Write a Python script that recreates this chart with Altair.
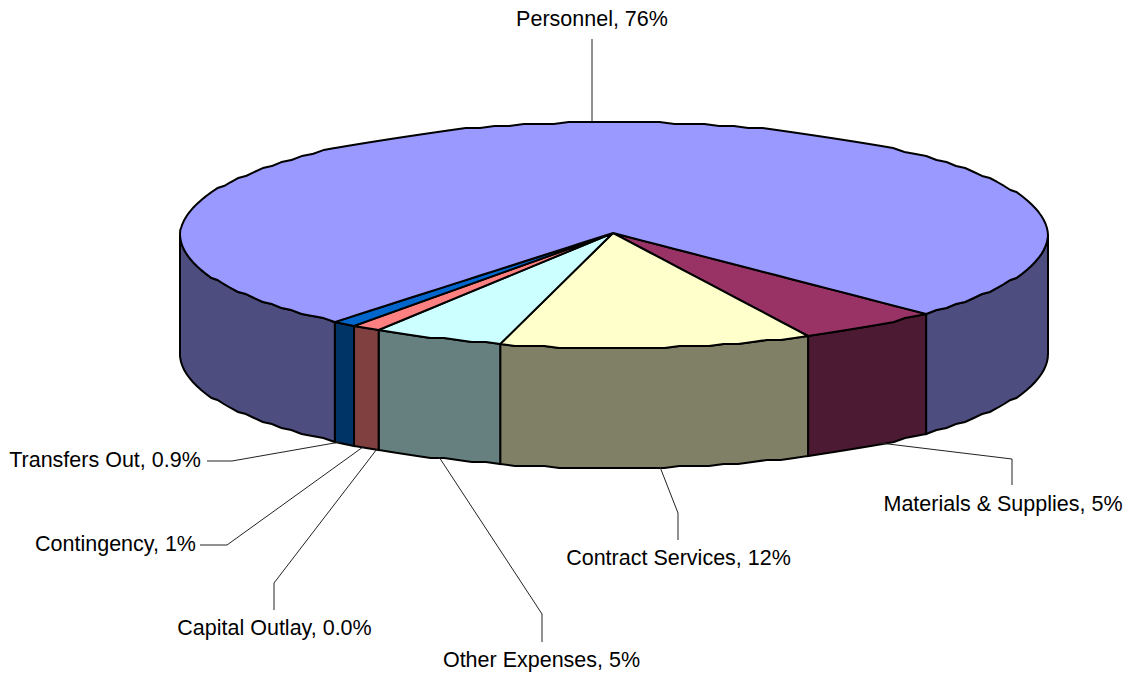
import math
import altair as alt
import pandas as pd

# Slices, in the order they run clockwise from the lower right edge of the Personnel slice
names = ["Materials & Supplies", "Contract Services", "Other Expenses",
         "Capital Outlay", "Contingency", "Transfers Out", "Personnel"]
shares = [5.4, 11.6, 4.9, 0.0, 1.1, 0.9, 76.1]
shown = ["5%", "12%", "5%", "0.0%", "1%", "0.9%", "76%"]
top_colors = ["#993366", "#FFFFCC", "#CCFFFF", "#660066", "#FF8080", "#0066CC", "#9999FF"]
wall_colors = ["#4D1A33", "#808066", "#668080", "#330033", "#804040", "#003366", "#4D4D80"]

# Label anchors (centres) and leader polylines, in picture pixels
label_x = [1003, 678.5, 541.5, 274.5, 115.5, 105, 592]
label_y = [511, 565, 667, 635, 551, 467, 26]
leader_x = [[1012, 1012, 880], [678, 678, 660], [542, 542, 439],
            [274, 274, 377], [200, 227, 363], [207, 232, 340], [592, 592]]
leader_y = [[485, 459, 443], [540, 513, 467], [642, 614, 457],
            [610, 583, 449], [545, 545, 447], [461, 461, 442], [39, 121]]

W, H = 1115, 667
CX, CY, RX, RY, DEPTH = 614, 235, 434, 113, 120
APEX = (613, 233)
START = 44.0      # degrees, screen clockwise from +x
GRID = 2.0


def rim(a):
    t = math.radians(a)
    x = CX + RX * math.cos(t)
    y = CY + RY * math.sin(t)
    return (x, round(y / GRID) * GRID)


def arc_points(a0, a1, step=2.0):
    n = max(1, int(math.ceil((a1 - a0) / step)))
    return [rim(a0 + (a1 - a0) * i / n) for i in range(n + 1)]


def columns(poly):
    """Turn an x-monotone closed polygon into x / y / y2 columns for an area mark."""
    xs = sorted({p[0] for p in poly})
    rows = []
    m = len(poly)
    for x in xs:
        hits = []
        for i in range(m):
            (x0, y0), (x1, y1) = poly[i], poly[(i + 1) % m]
            lo, hi = min(x0, x1), max(x0, x1)
            if lo <= x <= hi:
                if x0 == x1:
                    hits += [y0, y1]
                else:
                    hits.append(y0 + (y1 - y0) * (x - x0) / (x1 - x0))
        if hits:
            rows.append((x, min(hits), max(hits)))
    return rows


def add_wall(rows, part, fill, a0, a1):
    for x, y in sorted(arc_points(a0, a1)):
        rows.append(dict(part=part, fill=fill, x=x, y=y, y2=y + DEPTH))


top_rows, wall_rows, a = [], [], START
for name, share, tc, wc in zip(names, shares, top_colors, wall_colors):
    a1 = a + share * 3.6
    if share > 0:
        for x, y, y2 in columns([APEX] + arc_points(a, a1)):
            top_rows.append(dict(part=name, fill=tc, x=x, y=y, y2=y2))
    if name == "Personnel":
        # the two visible parts of its wall, either side of the front slices
        add_wall(wall_rows, "Personnel-left", wc, a, 180)
        add_wall(wall_rows, "Personnel-right", wc, 360, a1)
    elif share > 0:
        add_wall(wall_rows, name, wc, a, a1)
    a = a1

x_scale = alt.Scale(domain=[8, 8 + W], nice=False, zero=False)
y_scale = alt.Scale(domain=[8 + H, 8], nice=False, zero=False)
X = alt.X("x:Q", scale=x_scale, axis=None)
Y = alt.Y("y:Q", scale=y_scale, axis=None)


def surface(rows):
    return alt.Chart(pd.DataFrame(rows)).mark_area(
        stroke="#000000", strokeWidth=2, interpolate="linear", opacity=1
    ).encode(
        x=alt.X("x:Q", scale=x_scale, axis=None),
        y=alt.Y("y:Q", scale=y_scale, axis=None, stack=None),
        y2="y2:Q",
        fill=alt.Fill("fill:N", scale=None),
        detail="part:N",
    )


leader_rows = []
for name, xs, ys in zip(names, leader_x, leader_y):
    for k, (x, y) in enumerate(zip(xs, ys)):
        leader_rows.append(dict(part=name, k=k, x=x, y=y))
leaders = alt.Chart(pd.DataFrame(leader_rows)).mark_line(
    color="#222222", strokeWidth=1
).encode(x=X, y=Y, detail="part:N", order="k:Q")

label_rows = [dict(text=f"{n}, {s}", x=x, y=y)
              for n, s, x, y in zip(names, shown, label_x, label_y)]
labels = alt.Chart(pd.DataFrame(label_rows)).mark_text(
    align="center", baseline="alphabetic", font="Liberation Sans", fontSize=21.5, color="#000000"
).encode(x=X, y=Y, text="text:N")

chart = alt.layer(surface(wall_rows), surface(top_rows), leaders, labels).properties(
    width=W, height=H, padding=0, background="#FFFFFF"
).configure_view(stroke=None)

chart.save("out.html", embed_options={"renderer": "svg", "actions": False})
